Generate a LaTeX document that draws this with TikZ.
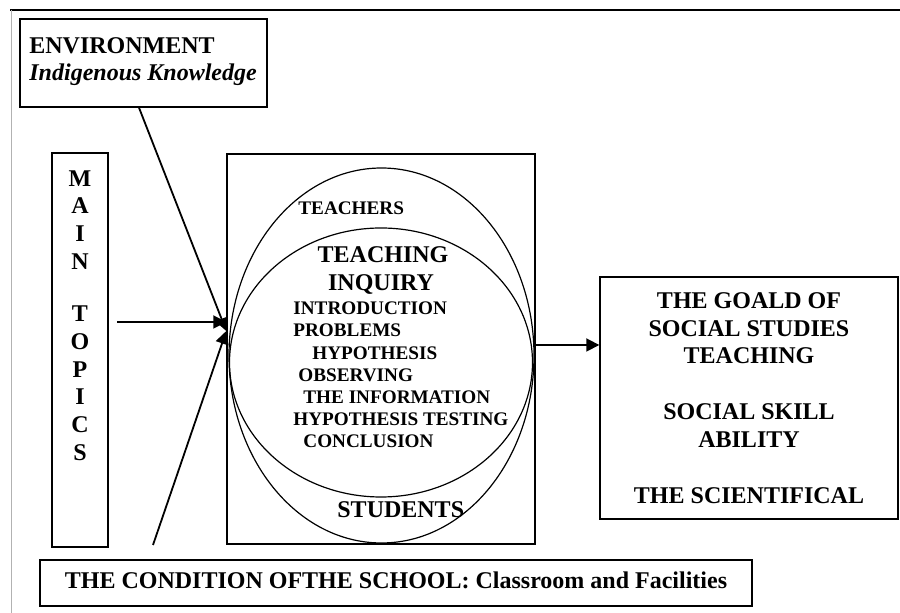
\documentclass[tikz,border=0pt]{standalone}
\usepackage{fontspec}
\setmainfont{Liberation Serif}
\usetikzlibrary{arrows.meta, positioning, calc}

\begin{document}
\begin{tikzpicture}[
  x=0.5pt, y=-0.5pt,
  framebox/.style={draw, line width=0.7pt, inner sep=0pt},
  flowarrow/.style={line width=0.9pt, -{Triangle[length=6.5pt, width=6.5pt]}},
  bigtext/.style={inner sep=0pt, font=\bfseries\fontsize{12}{13.9}\selectfont},
  steptext/.style={inner sep=0pt, anchor=base west, font=\bfseries\fontsize{9.6}{11}\selectfont}
]
  \useasboundingbox (0,0) rectangle (900,613);

  % Page rules
  \draw[line width=1.2pt] (10,10) -- (900,10);
  \draw[black!30, line width=0.5pt] (11,10) -- (11,613);

  % Environment
  \node[framebox, minimum width=123.5pt, minimum height=44pt] (env) at (143.5,63) {};
  \node[bigtext, anchor=base west] (envtitle) at (29,54) {ENVIRONMENT};
  \node[bigtext, anchor=base west] (envsub) at (29,81) {\itshape Indigenous Knowledge};

  % Main topics
  \node[framebox, minimum width=28pt, minimum height=197pt] (topics) at (80,350) {};
  \node[bigtext, anchor=north, align=center] (topicsword) at (80,170) {M\\A\\I\\N\\[12.1pt]T\\O\\P\\I\\C\\S};

  % Inquiry frame with the two circles
  \node[framebox, minimum width=154pt, minimum height=195pt] (frame) at (381,349) {};
  \draw[line width=0.6pt] (381.5,355.5) ellipse [x radius=152.5, y radius=187.5];
  \draw[line width=0.6pt] (381,362.5) ellipse [x radius=151.5, y radius=134.5];

  \node[steptext] (teachers) at (298,215) {TEACHERS};
  \node[bigtext, anchor=base] (teaching) at (383,263) {TEACHING};
  \node[bigtext, anchor=base] (inquiry) at (381,291) {INQUIRY};
  \node[steptext] (intro) at (293,315) {INTRODUCTION};
  \node[steptext] (problems) at (293,337) {PROBLEMS};
  \node[steptext] (hypo) at (312,360) {HYPOTHESIS};
  \node[steptext] (observe) at (298,382) {OBSERVING};
  \node[steptext] (info) at (303,404) {THE INFORMATION};
  \node[steptext] (testing) at (293,426) {HYPOTHESIS TESTING};
  \node[steptext] (conclusion) at (303,448) {CONCLUSION};
  \node[bigtext, anchor=base west] (students) at (337,518) {STUDENTS};

  % Goal
  \node[framebox, bigtext, minimum width=149pt, minimum height=121pt, align=center] (goal) at (749,398) {
    THE GOALD OF\\SOCIAL STUDIES\\TEACHING\\[14pt]
    SOCIAL SKILL\\ABILITY\\[14pt]
    THE SCIENTIFICAL
  };

  % School condition
  \node[framebox, bigtext, minimum width=356pt, minimum height=23pt, text depth=3pt] (cond) at (396,583) {THE CONDITION OFTHE SCHOOL: Classroom and Facilities};

  % Arrows
  \coordinate (topicsout) at (117,322);
  \coordinate (entry) at ([yshift=9pt]frame.west);
  \coordinate (condin) at (153,545);
  \draw[flowarrow] (topicsout) -- (topicsout -| frame.west);
  \draw[flowarrow] ([xshift=-2.25pt]env.south) -- (entry);
  \draw[flowarrow] (condin) -- (entry);
  \draw[flowarrow] ([yshift=2pt]frame.east) -- ([yshift=2pt]frame.east -| goal.west);
\end{tikzpicture}
\end{document}
